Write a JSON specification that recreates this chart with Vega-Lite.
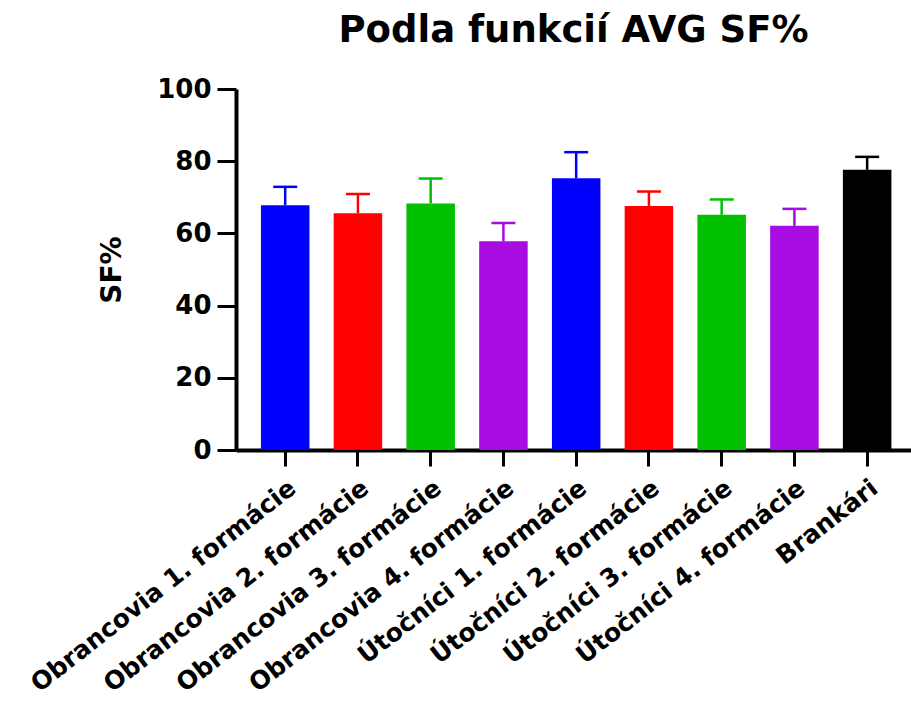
{
  "$schema": "https://vega.github.io/schema/vega-lite/v6.json",
  "autosize": {"type": "none"},
  "padding": {"left": 236, "top": 89, "right": 0, "bottom": 251},
  "width": 675,
  "height": 361,
  "background": "white",
  "title": {
    "text": "Podla funkcií AVG SF%",
    "font": "DejaVu Sans",
    "fontWeight": "bold",
    "fontSize": 37,
    "color": "#000000",
    "anchor": "middle",
    "offset": 26
  },
  "config": {
    "view": {"stroke": null},
    "axis": {
      "labelFont": "DejaVu Sans",
      "labelFontWeight": "bold",
      "labelColor": "#000000",
      "titleFont": "DejaVu Sans",
      "titleFontWeight": "bold",
      "titleColor": "#000000",
      "domainColor": "#000000",
      "tickColor": "#000000",
      "grid": false
    }
  },
  "data": {
    "values": [
      {"group": "Obrancovia 1. formácie", "value": 67.8, "upper": 72.9},
      {"group": "Obrancovia 2. formácie", "value": 65.6, "upper": 70.9},
      {"group": "Obrancovia 3. formácie", "value": 68.3, "upper": 75.2},
      {"group": "Obrancovia 4. formácie", "value": 57.8, "upper": 62.9},
      {"group": "Útočníci 1. formácie", "value": 75.3, "upper": 82.5},
      {"group": "Útočníci 2. formácie", "value": 67.6, "upper": 71.6},
      {"group": "Útočníci 3. formácie", "value": 65.2, "upper": 69.4},
      {"group": "Útočníci 4. formácie", "value": 62.1, "upper": 66.8},
      {"group": "Brankári", "value": 77.6, "upper": 81.2}
    ]
  },
  "encoding": {
    "x": {
      "field": "group",
      "type": "nominal",
      "sort": null,
      "scale": {"paddingInner": 0.333, "paddingOuter": 0.306, "align": 0.56},
      "axis": {
        "title": null,
        "labelAngle": -38,
        "labelFontSize": 25,
        "labelPadding": 9,
        "tickSize": 16,
        "tickWidth": 3,
        "domainWidth": 4,
        "labelLimit": 0
      }
    }
  },
  "layer": [
    {
      "mark": {"type": "bar"},
      "encoding": {
        "y": {
          "field": "value",
          "type": "quantitative",
          "scale": {"domain": [0, 100], "nice": false},
          "axis": {
            "title": "SF%",
            "titleFontSize": 28,
            "titlePadding": 30,
            "values": [0, 20, 40, 60, 80, 100],
            "labelFontSize": 26,
            "labelPadding": 6,
            "tickSize": 19,
            "tickWidth": 3,
            "domainWidth": 4
          }
        },
        "color": {
          "field": "group",
          "type": "nominal",
          "legend": null,
          "scale": {
            "domain": ["Obrancovia 1. formácie", "Obrancovia 2. formácie", "Obrancovia 3. formácie", "Obrancovia 4. formácie", "Útočníci 1. formácie", "Útočníci 2. formácie", "Útočníci 3. formácie", "Útočníci 4. formácie", "Brankári"],
            "range": ["#0000FF", "#FF0000", "#00C000", "#A90CE0", "#0000FF", "#FF0000", "#00C000", "#A90CE0", "#000000"]
          }
        }
      }
    },
    {
      "mark": {"type": "rule", "strokeWidth": 2.5, "opacity": 1},
      "encoding": {
        "y": {"field": "value", "type": "quantitative"},
        "y2": {"field": "upper"},
        "color": {"field": "group", "type": "nominal", "legend": null}
      }
    },
    {
      "mark": {"type": "tick", "size": 24, "thickness": 2.5, "orient": "horizontal", "opacity": 1},
      "encoding": {
        "y": {"field": "upper", "type": "quantitative"},
        "color": {"field": "group", "type": "nominal", "legend": null}
      }
    }
  ]
}
